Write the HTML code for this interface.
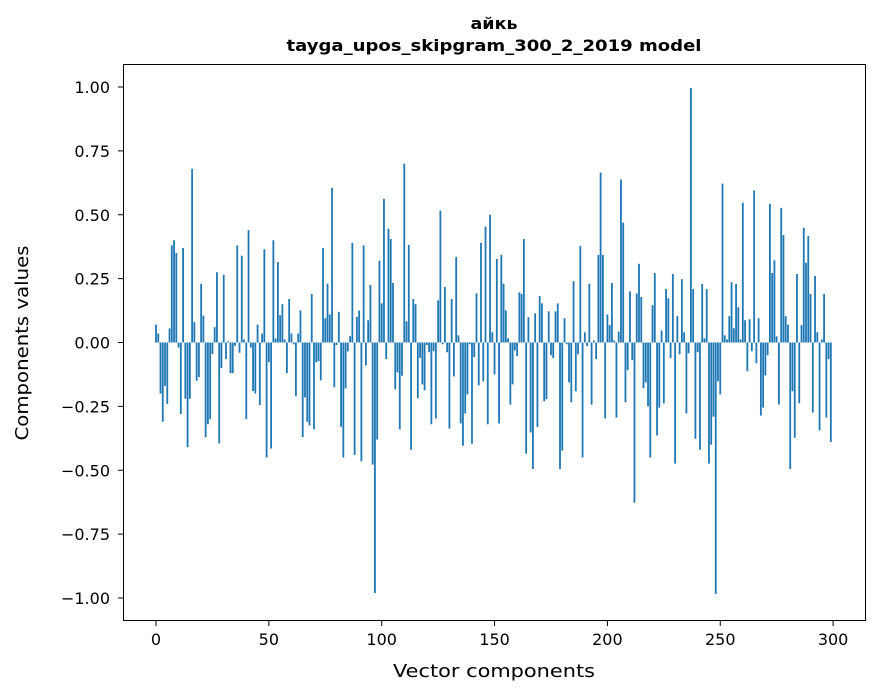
<!DOCTYPE html>
<html><head><meta charset="utf-8"><style>body{margin:0;background:#fff}svg{display:block}text{font-family:"DejaVu Sans","Liberation Sans",sans-serif;fill:#000}</style></head><body>
<svg id="s" width="880" height="696" xmlns="http://www.w3.org/2000/svg">
<rect width="880" height="696" fill="#fff"/>
<text x="494" y="29" text-anchor="middle" font-size="16" font-weight="bold" textLength="47" lengthAdjust="spacingAndGlyphs">айкь</text>
<text x="494" y="51" text-anchor="middle" font-size="16" font-weight="bold" textLength="415" lengthAdjust="spacingAndGlyphs">tayga_upos_skipgram_300_2_2019 model</text>
<g id="bars" fill="#1f77b4"></g>
<rect x="123.5" y="64.5" width="742" height="556" fill="none" stroke="#000" stroke-width="1"/>
<g id="ax" font-size="16"></g>
<text x="494" y="677" text-anchor="middle" font-size="18" textLength="202" lengthAdjust="spacingAndGlyphs">Vector components</text>
<text transform="translate(28,343) rotate(-90)" text-anchor="middle" font-size="18" textLength="195" lengthAdjust="spacingAndGlyphs">Components values</text>
</svg>
<script>
var v=[0.07,0.035,-0.2,-0.31,-0.17,-0.24,0.055,0.38,0.40,0.35,-0.02,-0.28,0.37,-0.22,-0.41,-0.22,0.68,0.08,-0.15,-0.135,0.23,0.105,-0.37,-0.32,-0.30,-0.045,0.06,0.275,-0.395,-0.1,0.265,-0.065,0.005,-0.12,-0.12,-0.013,0.38,-0.04,0.34,0.012,-0.30,0.44,-0.02,-0.19,-0.2,0.07,-0.245,0.035,0.365,-0.45,-0.077,-0.415,0.40,0.016,0.315,0.107,0.15,0.012,-0.12,0.17,0.035,-0.007,-0.21,0.035,0.126,-0.37,-0.215,-0.31,-0.325,0.19,-0.34,-0.077,-0.073,-0.148,0.37,
0.095,0.23,0.11,0.605,-0.175,-0.01,0.12,-0.33,-0.45,-0.18,-0.035,0.025,0.39,-0.44,0.1,0.125,-0.465,0.38,-0.09,0.087,0.225,-0.478,-0.98,-0.38,0.32,0.153,0.562,-0.065,0.445,0.405,0.233,-0.183,-0.117,-0.34,-0.13,0.70,0.083,0.382,-0.42,0.17,0.15,-0.218,-0.06,-0.164,-0.187,-0.01,-0.038,-0.32,-0.034,-0.297,0.165,0.516,-0.007,0.217,-0.038,-0.337,0.17,-0.133,0.335,0.028,-0.317,-0.404,-0.278,-0.203,-0.007,-0.396,-0.057,0.192,-0.168,0.39,-0.152,0.453,-0.32,0.50,
0.04,-0.125,0.327,-0.317,0.343,0.23,0.126,0.016,-0.243,-0.164,-0.031,-0.053,0.196,0.19,0.405,-0.435,0.099,-0.352,-0.495,0.114,-0.33,0.182,0.153,-0.23,-0.222,0.122,-0.05,-0.061,0.122,0.153,-0.495,-0.423,0.095,-0.007,-0.156,-0.234,0.24,-0.191,-0.046,0.378,-0.45,0.04,-0.014,0.23,-0.243,0.008,-0.065,0.343,0.665,0.343,-0.297,0.11,0.068,0.233,0.008,-0.294,0.043,0.638,0.469,-0.234,-0.108,0.2,-0.069,-0.627,0.192,0.308,0.178,-0.179,-0.156,-0.25,-0.45,0.146,0.272,-0.364,-0.255,0.047,-0.238,
0.209,0.173,-0.061,0.268,-0.474,0.103,-0.046,0.248,0.04,-0.278,-0.042,0.996,0.209,-0.377,-0.038,-0.42,0.229,0.016,0.209,-0.474,-0.4,-0.29,-0.984,-0.152,-0.203,0.622,0.028,0.012,0.103,0.236,0.056,0.229,0.138,0.012,0.547,0.087,-0.112,0.091,-0.034,0.595,-0.081,0.095,-0.286,-0.255,-0.129,-0.05,0.543,0.272,0.322,0.024,-0.243,0.527,0.421,0.103,0.07,-0.495,-0.191,-0.373,0.268,-0.238,0.068,0.449,0.312,0.417,0.19,-0.274,0.26,0.04,-0.344,0.012,0.19,-0.294,-0.065,-0.389];
var NS="http://www.w3.org/2000/svg",b=document.getElementById('bars'),ax=document.getElementById('ax');
var x0=156,dx=2.257,y0=342.5,k=255.5;
v.forEach(function(d,i){var r=document.createElementNS(NS,'rect');var h=Math.abs(d)*k;r.setAttribute('x',(x0+dx*i-0.9).toFixed(2));r.setAttribute('width','1.8');r.setAttribute('y',(d>0?y0-h:y0).toFixed(2));r.setAttribute('height',Math.max(h,0.3).toFixed(2));b.appendChild(r);});
function el(t,a,txt){var e=document.createElementNS(NS,t);for(var q in a)e.setAttribute(q,a[q]);if(txt!=null)e.textContent=txt;ax.appendChild(e);}
for(var j=0;j<=6;j++){var x=x0+j*50*dx;el('line',{x1:x,x2:x,y1:621,y2:626,stroke:'#000'});el('text',{x:x,y:645,'text-anchor':'middle'},String(j*50));}
var lab=['1.00','0.75','0.50','0.25','0.00','\u22120.25','\u22120.50','\u22120.75','\u22121.00'];
for(var j=0;j<9;j++){var y=87+j*63.875;el('line',{x1:118,x2:123,y1:y,y2:y,stroke:'#000'});el('text',{x:110,y:y+6,'text-anchor':'end'},lab[j]);}
</script>
</body></html>
